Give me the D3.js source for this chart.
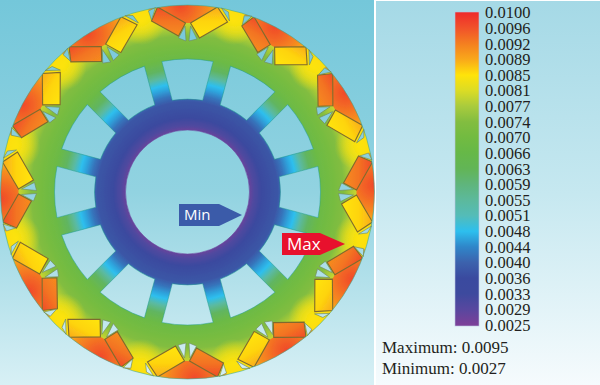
<!DOCTYPE html>
<html>
<head>
<meta charset="utf-8">
<script src="https://cdn.jsdelivr.net/npm/d3@7"></script>
<style>
  html, body { margin: 0; padding: 0; background: #fff; }
  svg { display: block; }
</style>
</head>
<body>
<div id="chart"></div>
<script>
// legend ticks and the colour read at each one
const tickLabels = ["0.0100", "0.0096", "0.0092", "0.0089", "0.0085", "0.0081", "0.0077",
    "0.0074", "0.0070", "0.0066", "0.0063", "0.0059", "0.0055", "0.0051",
    "0.0048", "0.0044", "0.0040", "0.0036", "0.0033", "0.0029", "0.0025"];
const tickColors = ["#ee2b2b", "#f1522a", "#f47f20", "#f9a81a", "#ffe30a", "#dbdc25", "#a9cb3d",
    "#82bd40", "#72bb41", "#66b848", "#62b556", "#5fb57c", "#5cb99c", "#54bcb8",
    "#2dbfee", "#2f86c9", "#3c62ad", "#3a4a9f", "#3d4a9e", "#58479f", "#7c3f98"];

// field values read along a radius, from the bore out to the rim
const profileRadii = [60, 66, 74, 90, 97, 104, 109, 116, 124, 134, 146, 156, 168, 178, 188];
const profileValues = [0.0026, 0.0030, 0.0035, 0.0038, 0.0042, 0.0046, 0.0048, 0.0054, 0.0062, 0.0068, 0.0071, 0.0074, 0.0079, 0.0083, 0.0086];

// field values across a pole cap, from its middle to its edge
const capOffsets = [0, 0.3, 0.6, 0.85, 1];
const capValues = [0.0097, 0.0094, 0.0091, 0.0088, 0.0085];

// magnet colours, inner edge to outer edge
const magnetA = [0.0091, 0.0093, 0.0097];
const magnetB = [0.0085, 0.0086, 0.0089];

const statLines = ["Maximum: 0.0095", "Minimum: 0.0027"];

const poles = d3.range(12);

const width = 600, height = 385;
const cx = 187.5, cy = 192, rim = 187;

const svg = d3.select("#chart").append("svg")
    .attr("width", width)
    .attr("height", height);
const defs = svg.append("defs");

const color = d3.scaleLinear()
    .domain(tickLabels.map(Number))
    .range(tickColors);

function addGradient(id, stops) {
    defs.append("linearGradient")
        .attr("id", id)
        .attr("x1", 0).attr("y1", 0).attr("x2", 0).attr("y2", 1)
        .selectAll("stop")
        .data(stops)
        .join("stop")
        .attr("offset", d => d[0])
        .attr("stop-color", d => d[1]);
}

addGradient("bgLeft", [[0, "#74c7da"], [0.5, "#92d3e1"], [1, "#d8f0f5"]]);
addGradient("bgRight", [[0, "#a5d9e6"], [0.5, "#c6e8f0"], [1, "#f6fbfd"]]);

// background panels
svg.append("rect").attr("width", 374).attr("height", height).attr("fill", "url(#bgLeft)");
svg.append("rect").attr("x", 376).attr("y", 1).attr("width", width - 376).attr("height", height).attr("fill", "url(#bgRight)");

// radial field of the motor
const fieldRadius = d3.scaleLinear().domain([0, rim]).range([0, 1]);
defs.append("radialGradient")
    .attr("id", "field")
    .attr("gradientUnits", "userSpaceOnUse")
    .attr("cx", 0).attr("cy", 0).attr("r", rim)
    .selectAll("stop")
    .data(profileRadii)
    .join("stop")
    .attr("offset", d => Math.min(1, fieldRadius(d)))
    .attr("stop-color", (d, i) => color(profileValues[i]));

defs.append("radialGradient")
    .attr("id", "cap")
    .attr("gradientUnits", "userSpaceOnUse")
    .attr("cx", -7).attr("cy", -rim).attr("r", 46)
    .selectAll("stop")
    .data(capOffsets)
    .join("stop")
    .attr("offset", d => d)
    .attr("stop-color", (d, i) => color(capValues[i]));

defs.append("radialGradient")
    .attr("id", "bridge")
    .selectAll("stop")
    .data([[0, 0.9], [0.5, 0.55], [1, 0]])
    .join("stop")
    .attr("offset", d => d[0])
    .attr("stop-color", color(0.0085))
    .attr("stop-opacity", d => d[1]);

function addMagnetGradient(id, values) {
    defs.append("linearGradient")
        .attr("id", id)
        .attr("gradientUnits", "userSpaceOnUse")
        .attr("x1", 0).attr("y1", -156).attr("x2", 0).attr("y2", -186)
        .selectAll("stop")
        .data(values)
        .join("stop")
        .attr("offset", (d, i) => i / (values.length - 1))
        .attr("stop-color", d => color(d));
}
addMagnetGradient("magnetA", magnetA);
addMagnetGradient("magnetB", magnetB);

defs.append("filter").attr("id", "soft")
    .append("feGaussianBlur").attr("stdDeviation", 0.45);

// geometry of one pole, y grows towards the centre
const magnetLeft = [[-30, -185], [-2, -169], [-9, -156], [-36, -171]];
const magnetRight = [[3, -169], [30, -185], [40, -170], [12, -154]];
const capShape = [[-41, -195], [-39, -181], [-30, -185], [-2, -169], [3, -169], [30, -185], [41, -180], [43, -195]];
const pockets = [
    [[-2.5, -166], [-9, -154], [-1.5, -151]],
    [[3, -166], [9.5, -153], [1.5, -151]],
    [[-39, -181], [-32, -184.5], [-36, -172]],
    [[34, -184], [41, -180], [42, -171]]
];
const line = d3.line().curve(d3.curveLinearClosed);

// one rotor window, 30 degrees of rotor with a spoke on each side
const windowOuter = 133, windowInner = 93, spokeHalf = 9;
function windowPath() {
    const p = d3.path();
    const step = Math.PI / 12;
    const aOut = step - Math.asin(spokeHalf / windowOuter);
    const aIn = step - Math.asin(spokeHalf / windowInner);
    const up = -Math.PI / 2;
    p.arc(0, 0, windowOuter, up - aOut, up + aOut);
    p.arc(0, 0, windowInner, up + aIn, up - aIn, true);
    p.closePath();
    return p.toString();
}

// the holes in the iron let the background show through
const mask = defs.append("mask")
    .attr("id", "iron")
    .attr("maskUnits", "userSpaceOnUse")
    .attr("x", -cx).attr("y", -cy).attr("width", width).attr("height", height);
mask.append("circle").attr("r", rim).attr("fill", "#fff");
mask.append("circle").attr("r", 62).attr("fill", "#000");
poles.forEach(k => {
    const g = mask.append("g").attr("transform", `rotate(${k * 30})`);
    g.append("path").attr("d", windowPath()).attr("fill", "#000");
    pockets.forEach(tri => g.append("path").attr("d", line(tri)).attr("fill", "#000"));
});

const motor = svg.append("g")
    .attr("transform", `translate(${cx},${cy})`)
    .attr("filter", "url(#soft)");

const iron = motor.append("g").attr("mask", "url(#iron)");
iron.append("circle").attr("r", rim).attr("fill", "url(#field)");

poles.forEach(k => {
    iron.append("g").attr("transform", `rotate(${k * 30 + 15})`)
        .append("circle")
        .attr("cy", -177).attr("r", 24)
        .attr("fill", "url(#bridge)");
});
poles.forEach(k => {
    const g = iron.append("g").attr("transform", `rotate(${k * 30})`);
    g.append("path").attr("d", line(capShape)).attr("fill", "url(#cap)");
    g.append("path").attr("d", line(magnetLeft))
        .attr("fill", "url(#magnetA)").attr("stroke", "#7f6a2e").attr("stroke-width", 1.1);
    g.append("path").attr("d", line(magnetRight))
        .attr("fill", "url(#magnetB)").attr("stroke", "#7f6a2e").attr("stroke-width", 1.1);
});

// thin edges round the holes and the rim
motor.append("circle").attr("r", rim).attr("fill", "none").attr("stroke", "#3aa890").attr("stroke-width", 0.8).attr("opacity", 0.7);
motor.append("circle").attr("r", 62).attr("fill", "none").attr("stroke", "#6a4aa0").attr("stroke-width", 0.8).attr("opacity", 0.7);
poles.forEach(k => {
    const g = motor.append("g").attr("transform", `rotate(${k * 30})`);
    g.append("path").attr("d", windowPath())
        .attr("fill", "none").attr("stroke", "#1f9c8e").attr("stroke-width", 0.8).attr("opacity", 0.6);
    pockets.forEach(tri => g.append("path").attr("d", line(tri))
        .attr("fill", "none").attr("stroke", "#6f8a5a").attr("stroke-width", 0.6));
});

// Min / Max flags
const flags = [
    { name: "Min", fill: "#3b5ba9", x: 179, y: 204, body: 40, tip: 23, h: 22, size: 15, tx: 184 },
    { name: "Max", fill: "#e8112d", x: 282, y: 233, body: 38, tip: 25, h: 22, size: 17, tx: 287 }
];
flags.forEach(f => {
    svg.append("path")
        .attr("d", line([[f.x, f.y], [f.x + f.body, f.y], [f.x + f.body + f.tip, f.y + f.h / 2], [f.x + f.body, f.y + f.h], [f.x, f.y + f.h]]))
        .attr("fill", f.fill);
    svg.append("text")
        .attr("x", f.tx)
        .attr("y", f.y + f.h / 2 + f.size * 0.36)
        .attr("font-family", "'Open Sans', sans-serif")
        .attr("font-size", f.size)
        .attr("fill", "#fff")
        .text(f.name);
});

// colour bar
const barTop = 12, barBottom = 326, barX = 455, barW = 24;
const y = d3.scalePoint().domain(tickLabels).range([barTop + 0.5, barBottom - 1]);

const barGrad = defs.append("linearGradient")
    .attr("id", "bar")
    .attr("gradientUnits", "userSpaceOnUse")
    .attr("x1", 0).attr("y1", y(tickLabels[0])).attr("x2", 0).attr("y2", y(tickLabels[tickLabels.length - 1]));
barGrad.selectAll("stop")
    .data(tickLabels)
    .join("stop")
    .attr("offset", (d, i) => i / (tickLabels.length - 1))
    .attr("stop-color", (d, i) => tickColors[i]);

svg.append("rect")
    .attr("x", barX).attr("y", barTop)
    .attr("width", barW).attr("height", barBottom - barTop)
    .attr("fill", "url(#bar)")
    .attr("stroke", "#b9c4e0").attr("stroke-width", 0.6);

const axis = svg.append("g")
    .attr("transform", `translate(${barX + barW},0)`)
    .call(d3.axisRight(y).tickSize(0).tickPadding(6));
axis.select(".domain").remove();
axis.selectAll("text")
    .attr("font-family", "'Liberation Serif', serif")
    .attr("font-size", 16.5)
    .attr("fill", "#231f20");

// max / min readout
svg.selectAll(".stat")
    .data(statLines)
    .join("text")
    .attr("class", "stat")
    .attr("x", 382)
    .attr("y", (d, i) => 353 + i * 21)
    .attr("font-family", "'Liberation Serif', serif")
    .attr("font-size", 17)
    .attr("fill", "#231f20")
    .text(d => d);
</script>
</body>
</html>
